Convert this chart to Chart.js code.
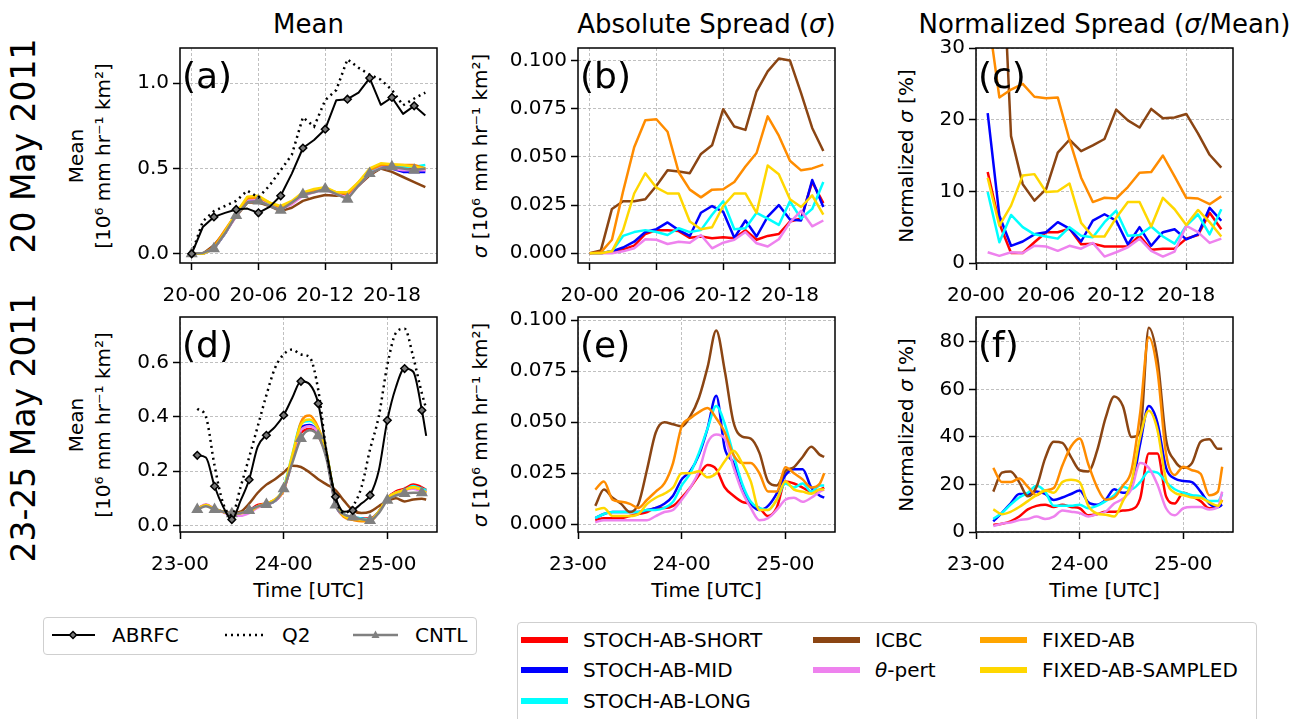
<!DOCTYPE html>
<html>
<head>
<meta charset="utf-8">
<title>Ensemble mean and spread</title>
<script src="https://cdn.jsdelivr.net/npm/chart.js@4.4.1/dist/chart.umd.min.js"></script>
<style>
  html, body { margin: 0; padding: 0; }
  body { position: relative; width: 1303px; height: 719px; overflow: hidden; background: #fff;
         font-family: 'DejaVu Sans', sans-serif; color: #000; }
  canvas { position: absolute; }
  .t { position: absolute; white-space: nowrap; }
  .coltitle { font-size: 26px; line-height: 26px; top: 11px; transform: translateX(-50%); }
  .rowlabel { font-size: 33px; line-height: 38px; transform: translate(-50%, -50%) rotate(-90deg); }
  .ylab { font-size: 20px; line-height: 27px; text-align: center; transform: translate(-50%, -50%) rotate(-90deg); }
  .xlab { font-size: 20px; line-height: 24px; top: 590px; transform: translate(-50%, -50%); }
  .letter { font-size: 36px; line-height: 36px; }
  .legend { position: absolute; border: 1.5px solid #cfcfcf; border-radius: 4px; box-sizing: border-box; background: #fff; }
  .lg { position: absolute; font-size: 20px; line-height: 24px; transform: translateY(-50%); white-space: nowrap; }
</style>
</head>
<body>

<div class="t coltitle" style="left:308.5px">Mean</div>
<div class="t coltitle" style="left:706.5px">Absolute Spread (<i>σ</i>)</div>
<div class="t coltitle" style="left:1104.5px">Normalized Spread (<i>σ</i>/Mean)</div>

<div class="t rowlabel" style="left:24px;top:146px">20 May 2011</div>
<div class="t rowlabel" style="left:24px;top:428px">23-25 May 2011</div>

<div class="t ylab" style="left:89.5px;top:155.5px">Mean<br>[10⁶ mm hr⁻¹ km²]</div>
<div class="t ylab" style="left:89.5px;top:424.5px">Mean<br>[10⁶ mm hr⁻¹ km²]</div>
<div class="t ylab" style="left:480px;top:155.5px"><i>σ</i> [10⁶ mm hr⁻¹ km²]</div>
<div class="t ylab" style="left:480px;top:424.5px"><i>σ</i> [10⁶ mm hr⁻¹ km²]</div>
<div class="t ylab" style="left:906px;top:156px">Normalized <i>σ</i> [%]</div>
<div class="t ylab" style="left:906px;top:424.5px">Normalized <i>σ</i> [%]</div>

<div class="t xlab" style="left:308.5px">Time [UTC]</div>
<div class="t xlab" style="left:706.5px">Time [UTC]</div>
<div class="t xlab" style="left:1104.5px">Time [UTC]</div>

<div class="legend" style="left:43px;top:617px;width:434px;height:38px"></div>
<div class="legend" style="left:517px;top:622px;width:740px;height:120px"></div>
<svg id="handles" style="position:absolute;left:0;top:0" width="1303" height="719"></svg>

<script>
// ---- time axes (hours from 20-00 for day 1, hours from 23-00 for the 3-day case) ----
const hoursA = [0,1,2,3,4,5,6,7,8,9,10,11,12,13,14,15,16,17,18,19,20,21];
const hoursC = [1,2,3,4,5,6,7,8,9,10,11,12,13,14,15,16,17,18,19,20,21];
const hoursD = [4,6,8,10,12,14,16,18,20,22,24,26,28,30,32,34,36,38,40,42,44,46,48,50,52,54,56,57];

const ticksDay1 = [0, 6, 12, 18];
const labelsDay1 = ['20-00', '20-06', '20-12', '20-18'];
const ticksDay3 = [0, 24, 48];
const labelsDay3 = ['23-00', '24-00', '25-00'];

const memberNames = ['STOCH-AB-SHORT', 'STOCH-AB-MID', 'STOCH-AB-LONG', 'ICBC', 'θ-pert', 'FIXED-AB', 'FIXED-AB-SAMPLED'];
const memberColors = ['#ff0000', '#0000ff', '#00ffff', '#8b4513', '#ee82ee', '#ff8c00', '#ffd700'];

// ---- (a) mean, 20 May ----
const abrfcA = [0, .157, .216, .24, .26, .265, .24, .275, .34, .47, .62, .667, .73, .90, .906, .945, 1.03, .873, .916, .82, .867, .81];
const q2A    = [0, .19, .25, .28, .31, .37, .33, .40, .49, .58, .80, .745, .90, .96, 1.14, 1.09, 1.05, 1.02, .96, .87, .91, .945];
const cntlA  = [0, .005, .03, .12, .225, .30, .31, .28, .255, .30, .347, .36, .38, .35, .32, .40, .47, .50, .51, .50, .49, .50];
const shortA  = [0, 0, .03, .12, .23, .32, .32, .29, .265, .30, .35, .365, .38, .355, .34, .41, .48, .51, .51, .50, .50, .49];
const midA    = [0, 0, .03, .12, .23, .32, .32, .29, .265, .30, .35, .365, .38, .355, .34, .41, .48, .51, .50, .48, .48, .48];
const longA   = [0, 0, .03, .12, .23, .32, .325, .29, .27, .30, .352, .367, .38, .355, .34, .41, .485, .52, .52, .51, .51, .52];
const icbcA   = [0, 0, .05, .13, .22, .30, .30, .28, .25, .27, .31, .33, .345, .34, .35, .40, .46, .50, .48, .45, .42, .39];
const thetaA  = [0, 0, .03, .12, .22, .32, .32, .28, .26, .29, .34, .36, .375, .35, .33, .40, .47, .505, .50, .49, .49, .49];
const fixedA  = [0, 0, .04, .14, .235, .325, .33, .30, .27, .30, .355, .37, .385, .36, .35, .42, .49, .52, .52, .52, .52, .50];
const sampledA = [0, 0, .03, .13, .24, .335, .34, .30, .28, .31, .36, .38, .39, .36, .36, .42, .50, .53, .525, .52, .51, .50];

// ---- (b) absolute spread, 20 May ----
const shortB  = [0, 0, .001, .002, .004, .010, .012, .012, .0115, .008, .0087, .0078, .0083, .0078, .012, .007, .009, .010, .0165, .018, .037, .026];
const midB    = [0, 0, .001, .003, .006, .011, .0125, .016, .012, .009, .021, .0245, .0215, .008, .017, .0087, .019, .025, .0175, .017, .038, .024];
const longB   = [0, 0, .001, .009, .011, .012, .011, .0095, .013, .011, .012, .020, .027, .0125, .013, .021, .018, .0147, .027, .018, .023, .037];
const icbcB   = [0, .0014, .023, .027, .027, .028, .035, .043, .0424, .0415, .0515, .056, .0747, .0657, .064, .084, .0943, .101, .100, .083, .065, .053];
const thetaB  = [0, 0, 0, .001, .0026, .0073, .007, .0048, .006, .0055, .0095, .0026, .0055, .007, .011, .0052, .0035, .0073, .016, .022, .014, .017];
const fixedB  = [0, .0005, .007, .032, .055, .069, .0695, .063, .042, .033, .029, .033, .0332, .037, .045, .052, .071, .061, .048, .043, .044, .046];
const sampledB = [0, 0, .001, .012, .031, .0415, .034, .031, .031, .0165, .0125, .0135, .0245, .031, .031, .021, .0455, .041, .028, .024, .030, .020];

// ---- (c) normalized spread, 20 May (starts at hour 1) ----
const shortC  = [12.7, 5.5, 1.4, 1.4, 2.9, 4.3, 4.3, 4.8, 2.6, 2.7, 2.3, 2.3, 2.3, 3.8, 1.85, 2.0, 2.0, 3.4, 3.9, 7.0, 4.7];
const midC    = [20.9, 6.6, 2.4, 3.0, 4.0, 4.3, 5.7, 4.8, 3.0, 5.9, 6.8, 5.9, 2.6, 5.0, 2.4, 4.3, 4.7, 3.3, 4.0, 7.7, 5.9];
const longC   = [9.9, 2.9, 6.7, 5.0, 4.0, 3.7, 3.4, 5.0, 3.8, 3.6, 5.7, 7.3, 3.8, 3.9, 5.1, 3.7, 2.7, 5.2, 6.8, 4.0, 7.5];
const icbcC   = [90, 53, 17.7, 11.0, 8.7, 10.3, 15.4, 17.2, 15.6, 16.4, 17.3, 21.4, 19.9, 18.9, 21.5, 20.2, 20.3, 20.8, 18.1, 15.1, 13.3];
const thetaC  = [1.5, 1.0, 1.5, 1.4, 2.4, 2.3, 1.7, 2.4, 2.0, 2.8, 0.9, 1.5, 2.2, 3.4, 1.7, 0.9, 1.6, 5.2, 4.3, 2.8, 3.4];
const fixedC  = [35, 23.1, 24.2, 25.0, 23.2, 23.0, 23.1, 17.2, 11.9, 8.5, 9.1, 9.0, 10.6, 12.6, 12.7, 15.0, 12.1, 9.1, 9.0, 8.2, 9.3];
const sampledC = [11.9, 5.2, 8.0, 12.2, 12.4, 9.9, 10.0, 11.1, 5.6, 3.7, 3.7, 6.3, 8.5, 8.5, 5.1, 9.1, 7.5, 5.3, 7.4, 5.7, 3.7];

// ---- (d) mean, 23-25 May ----
const abrfcD = [.258, .25, .144, .068, .021, .09, .168, .29, .332, .363, .406, .47, .531, .52, .449, .264, .105, .05, .055, .08, .111, .20, .387, .51, .578, .566, .424, .33];
const q2D    = [.43, .40, .22, .08, .037, .14, .25, .365, .48, .58, .63, .648, .63, .62, .50, .26, .10, .045, .07, .14, .28, .40, .59, .71, .725, .62, .486, .43];
const cntlD  = [.058, .07, .058, .05, .043, .045, .055, .07, .077, .09, .135, .23, .32, .35, .33, .24, .075, .04, .031, .022, .018, .045, .092, .11, .117, .12, .12, .115];
const shortD  = [.06, .075, .06, .05, .04, .045, .055, .075, .08, .09, .13, .24, .34, .355, .33, .25, .085, .04, .03, .025, .025, .05, .10, .125, .135, .15, .14, .13];
const midD    = [.06, .075, .06, .05, .04, .045, .055, .07, .078, .09, .135, .25, .36, .37, .34, .25, .08, .035, .028, .025, .02, .05, .10, .12, .13, .14, .13, .125];
const longD   = [.06, .075, .06, .05, .04, .045, .055, .07, .078, .09, .14, .26, .375, .385, .355, .26, .09, .04, .03, .025, .02, .05, .10, .12, .13, .145, .135, .13];
const icbcD   = [.06, .075, .058, .05, .045, .05, .08, .12, .15, .17, .195, .22, .215, .195, .17, .15, .13, .09, .055, .045, .05, .07, .09, .10, .088, .095, .098, .095];
const thetaD  = [.06, .078, .06, .048, .035, .035, .045, .065, .075, .09, .13, .24, .35, .365, .34, .25, .08, .035, .028, .02, .018, .048, .10, .12, .13, .135, .125, .12];
const fixedD  = [.06, .075, .06, .05, .04, .045, .05, .07, .08, .095, .13, .25, .38, .405, .36, .26, .085, .03, .02, .015, .015, .05, .10, .12, .13, .14, .13, .12];
const sampledD = [.06, .075, .06, .05, .04, .045, .05, .07, .08, .095, .135, .26, .37, .39, .355, .26, .085, .035, .025, .02, .02, .05, .10, .12, .13, .14, .13, .12];

// ---- (e) absolute spread, 23-25 May ----
const shortE  = [.002, .003, .003, .003, .004, .005, .006, .008, .008, .009, .013, .018, .024, .029, .027, .018, .014, .011, .01, .008, .004, .008, .021, .02, .018, .016, .017, .018];
const midE    = [.003, .005, .006, .006, .006, .006, .007, .008, .01, .014, .022, .026, .034, .047, .063, .037, .03, .017, .01, .007, .009, .015, .024, .027, .027, .018, .014, .013];
const longE   = [.003, .005, .006, .006, .006, .006, .007, .007, .008, .011, .019, .025, .035, .047, .058, .049, .034, .02, .011, .008, .007, .012, .02, .018, .02, .016, .019, .019];
const icbcE   = [.009, .017, .013, .010, .006, .010, .027, .045, .050, .049, .048, .053, .062, .077, .095, .075, .05, .043, .042, .035, .021, .019, .026, .028, .033, .038, .034, .033];
const thetaE  = [.001, .002, .002, .002, .002, .002, .002, .004, .006, .007, .012, .018, .026, .04, .044, .042, .028, .016, .008, .002, .003, .007, .012, .013, .011, .013, .016, .017];
const fixedE  = [.017, .021, .012, .011, .010, .008, .012, .016, .02, .03, .048, .052, .055, .057, .052, .045, .034, .03, .03, .025, .016, .016, .028, .025, .022, .018, .02, .025];
const sampledE = [.007, .008, .004, .004, .004, .005, .01, .013, .015, .018, .025, .025, .026, .023, .025, .031, .036, .03, .021, .007, .007, .012, .021, .017, .016, .015, .017, .017];

// ---- (f) normalized spread, 23-25 May ----
const shortF  = [3, 3.5, 4.5, 6.5, 9.5, 11, 11.5, 10.5, 11.5, 10.5, 10, 7, 7.5, 8.5, 8.5, 9, 9.5, 14, 33, 33, 15, 12, 16.5, 15, 13, 10, 10.5, 13.5];
const midF    = [4.5, 8, 12, 16, 16, 17, 16, 13.5, 14.5, 16, 17.5, 12.5, 11.5, 13.5, 18, 16.5, 19, 37, 53, 46, 27, 22.5, 21.5, 21, 17, 12, 10.5, 11.5];
const longF   = [5.5, 8, 11.5, 14.5, 16.5, 19.5, 17, 11, 11, 11, 11.5, 10, 11, 13, 15.5, 19, 18, 21, 25.5, 25, 21, 18, 16.5, 15.5, 15, 13, 13, 16];
const icbcF   = [17, 25, 25.5, 21, 15, 19, 31, 38, 37.5, 31.5, 26, 25.5, 34, 48, 57, 53, 40, 42, 86, 73, 39, 30, 27, 29, 38, 39, 35, 35];
const thetaF  = [2.5, 3.5, 4, 5, 5.5, 6.5, 5.5, 6.5, 9, 8.5, 8, 6.5, 7.5, 8.5, 12, 14, 18, 29, 27, 20, 10, 7, 10, 10.5, 10.5, 9.5, 10.5, 17];
const fixedF  = [27, 21, 21, 22.5, 19, 15.5, 17.5, 18.5, 28, 36, 39.4, 28.5, 19, 13.6, 14.5, 19.5, 26, 50, 82, 68, 33, 24, 27.5, 26, 24.5, 15.5, 17, 27.5];
const sampledF = [9.5, 7.5, 8.5, 10.5, 13, 15.5, 17.5, 16.5, 21, 22, 21, 11, 7.8, 7.3, 6.5, 13, 21, 40, 51, 43, 22, 16.5, 15.5, 14.5, 14.3, 12.5, 11, 13.5];

// ---- layout ----
Chart.defaults.font.family = "'DejaVu Sans', sans-serif";
Chart.defaults.font.size = 20;
Chart.defaults.color = '#000';

const L = 100, T = 20, R = 30, B = 50;   // room around each plot area
const PW = 257, PH = 215;                 // plot area size

const frame = {
  id: 'frame',
  afterDatasetsDraw(chart) {
    const { ctx, chartArea: a } = chart;
    ctx.save();
    ctx.strokeStyle = '#000';
    ctx.lineWidth = 1.5;
    ctx.strokeRect(a.left, a.top, a.right - a.left, a.bottom - a.top);
    ctx.restore();
  }
};

const pts = (xs, ys) => ys.map((y, i) => ({ x: xs[i], y }));

function memberSets(xs, series, smooth) {
  return series.map((ys, k) => ({
    label: memberNames[k],
    data: pts(xs, ys),
    borderColor: memberColors[k],
    borderWidth: 2.5,
    pointRadius: 0,
    cubicInterpolationMode: smooth ? 'monotone' : 'default',
    borderJoinStyle: 'round',
    order: 10 - k,
    clip: 0
  }));
}

function referenceSets(xs, abrfc, q2, cntl, mark, smooth) {
  const mode = smooth ? 'monotone' : 'default';
  return [
    { label: 'ABRFC', data: pts(xs, abrfc), borderColor: '#000', borderWidth: 2,
      pointStyle: 'rectRot', pointRadius: c => mark(c.dataIndex) ? 3.8 : 0,
      pointBackgroundColor: '#777', pointBorderColor: '#000', pointBorderWidth: 1.5,
      cubicInterpolationMode: mode, borderJoinStyle: 'round', order: 0, clip: 0 },
    { label: 'Q2', data: pts(xs, q2), borderColor: '#000', borderWidth: 2.5, borderDash: [2, 4],
      pointRadius: 0, cubicInterpolationMode: mode, order: 1, clip: 0 },
    { label: 'CNTL', data: pts(xs, cntl), borderColor: '#808080', borderWidth: 2.5,
      pointStyle: 'triangle', pointRadius: c => mark(c.dataIndex) ? 4.5 : 0,
      pointBackgroundColor: '#808080', pointBorderColor: '#808080',
      cubicInterpolationMode: mode, borderJoinStyle: 'round', order: 2, clip: 0 }
  ];
}

function axis(min, max, tickValues, tickLabels, isX) {
  return {
    type: 'linear', min, max,
    afterBuildTicks: s => { s.ticks = tickValues.map(v => ({ value: v })); },
    afterFit: s => { if (isX) s.height = B; else s.width = L; },
    ticks: { autoSkip: false, maxRotation: 0, padding: isX ? 14 : 4, color: '#000',
             font: { size: 20 }, callback: (v, i) => tickLabels[i] },
    grid: { color: '#b0b0b0', lineWidth: 0.8, tickLength: 7, tickColor: '#000', tickWidth: 1.5, tickBorderDash: [] },
    border: { display: false, dash: [3, 2] }
  };
}

function panel(plotLeft, plotTop, letter, datasets, xs, ys) {
  const cv = document.createElement('canvas');
  cv.width = L + PW + R;
  cv.height = T + PH + B;
  cv.style.left = (plotLeft - L) + 'px';
  cv.style.top = (plotTop - T) + 'px';
  document.body.appendChild(cv);
  new Chart(cv, {
    type: 'line',
    data: { datasets },
    options: {
      responsive: false, animation: false, devicePixelRatio: 1, events: [],
      layout: { padding: { top: T, right: R, left: 0, bottom: 0 } },
      plugins: { legend: { display: false }, tooltip: { enabled: false } },
      scales: { x: xs, y: ys }
    },
    plugins: [frame]
  });
  const tag = document.createElement('div');
  tag.className = 't letter';
  tag.style.left = (plotLeft + 2) + 'px';
  tag.style.top = (plotTop + 10) + 'px';
  tag.textContent = '(' + letter + ')';
  document.body.appendChild(tag);
}

const col = [180, 578, 976];
const row = [48, 317];
const everyOther = i => i % 2 === 0;
const every4h = i => hoursD[i] % 4 === 0 && hoursD[i] <= 56;

panel(col[0], row[0], 'a',
  referenceSets(hoursA, abrfcA, q2A, cntlA, everyOther, false)
    .concat(memberSets(hoursA, [shortA, midA, longA, icbcA, thetaA, fixedA, sampledA], false)),
  axis(-1.05, 22.05, ticksDay1, labelsDay1, true),
  axis(-0.054, 1.206, [0, 0.5, 1.0], ['0.0', '0.5', '1.0'], false));

panel(col[1], row[0], 'b',
  memberSets(hoursA, [shortB, midB, longB, icbcB, thetaB, fixedB, sampledB], false),
  axis(-1.05, 22.05, ticksDay1, labelsDay1, true),
  axis(-0.00504, 0.10644, [0, 0.025, 0.05, 0.075, 0.1], ['0.000', '0.025', '0.050', '0.075', '0.100'], false));

panel(col[2], row[0], 'c',
  memberSets(hoursC, [shortC, midC, longC, icbcC, thetaC, fixedC, sampledC], false),
  axis(0, 22, ticksDay1, labelsDay1, true),
  axis(0, 30, [0, 10, 20, 30], ['0', '10', '20', '30'], false));

panel(col[0], row[1], 'd',
  referenceSets(hoursD, abrfcD, q2D, cntlD, every4h, true)
    .concat(memberSets(hoursD, [shortD, midD, longD, icbcD, thetaD, fixedD, sampledD], true)),
  axis(0, 59.5, ticksDay3, labelsDay3, true),
  axis(-0.0247, 0.768, [0, 0.2, 0.4, 0.6], ['0.0', '0.2', '0.4', '0.6'], false));

panel(col[1], row[1], 'e',
  memberSets(hoursD, [shortE, midE, longE, icbcE, thetaE, fixedE, sampledE], true),
  axis(0, 59.5, ticksDay3, labelsDay3, true),
  axis(-0.0038, 0.1016, [0, 0.025, 0.05, 0.075, 0.1], ['0.000', '0.025', '0.050', '0.075', '0.100'], false));

panel(col[2], row[1], 'f',
  memberSets(hoursD, [shortF, midF, longF, icbcF, thetaF, fixedF, sampledF], true),
  axis(0, 59.5, ticksDay3, labelsDay3, true),
  axis(0, 90.5, [0, 20, 40, 60, 80], ['0', '20', '40', '60', '80'], false));

// ---- legends ----
const svg = document.getElementById('handles');
const NS = 'http://www.w3.org/2000/svg';
function shape(tag, attrs) {
  const el = document.createElementNS(NS, tag);
  for (const k in attrs) el.setAttribute(k, attrs[k]);
  svg.appendChild(el);
}
function label(x, y, html) {
  const d = document.createElement('div');
  d.className = 'lg';
  d.style.left = x + 'px';
  d.style.top = y + 'px';
  d.innerHTML = html;
  document.body.appendChild(d);
}

// reference legend
shape('line', { x1: 52, y1: 635, x2: 95, y2: 635, stroke: '#000', 'stroke-width': 2 });
shape('polygon', { points: '73,631.5 76.5,635 73,638.5 69.5,635', fill: '#777', stroke: '#000', 'stroke-width': 1.5 });
label(112, 635, 'ABRFC');
shape('line', { x1: 225, y1: 635, x2: 267, y2: 635, stroke: '#000', 'stroke-width': 2.5, 'stroke-dasharray': '2 4' });
label(282, 635, 'Q2');
shape('line', { x1: 353, y1: 635, x2: 398, y2: 635, stroke: '#808080', 'stroke-width': 2.5 });
shape('polygon', { points: '375.5,630.5 379.5,638 371.5,638', fill: '#808080' });
label(415, 635, 'CNTL');

// ensemble legend, filled column by column
const legendCols = [521, 813, 980];
const legendRows = [640, 670, 701];
const legendSlots = [[0, 0], [0, 1], [0, 2], [1, 0], [1, 1], [2, 0], [2, 1]];
const legendSwatch = ['#ff0000', '#0000ff', '#00ffff', '#8b4513', '#ee82ee', '#ffa500', '#ffd700'];
memberNames.forEach((name, k) => {
  const [c, r] = legendSlots[k];
  const x = legendCols[c], y = legendRows[r];
  shape('line', { x1: x, y1: y, x2: x + 47, y2: y, stroke: legendSwatch[k], 'stroke-width': 6 });
  label(x + 62, y, name === 'θ-pert' ? '<i>θ</i>-pert' : name);
});
</script>
</body>
</html>
